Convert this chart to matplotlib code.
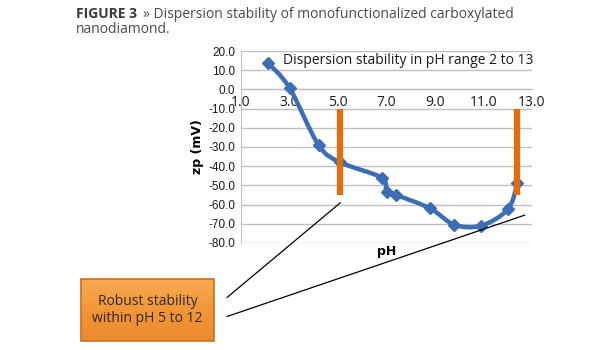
import matplotlib
matplotlib.use('Agg')
import matplotlib.pyplot as plt
import numpy as np
from matplotlib.path import Path
from matplotlib.patches import PathPatch, Rectangle, ConnectionPatch
from matplotlib.colors import LinearSegmentedColormap

# data
ph = [2.1, 3.0, 4.2, 5.1, 6.8, 7.0, 7.4, 8.8, 9.8, 10.9, 12.0, 12.4]
zp = [14.0, 0.8, -29.0, -38.0, -46.0, -53.5, -55.0, -62.0, -70.5, -71.0, -62.5, -49.0]
bar_ph = [5.1, 12.4]
bar_top = [-10.0, -10.0]
bar_bottom = [-55.0, -55.0]
y_ticks = [20, 10, 0, -10, -20, -30, -40, -50, -60, -70, -80]
x_ticks = [1, 3, 5, 7, 9, 11, 13]

blue = "#3B6EB5"
orange = "#E46C0A"
grid_gray = "#BFBFBF"

plt.rcParams['font.family'] = ['Open Sans', 'DejaVu Sans']

fig = plt.figure(figsize=(6.15, 3.5), dpi=100)
ax = fig.add_axes([241 / 615, 1 - 243 / 350, 291 / 615, 192 / 350])

# caption
fig.text(76 / 615, 1 - 18 / 350, "FIGURE 3", fontsize=10, fontweight="bold",
         color="#3A3A3A", va="baseline")
fig.text(143 / 615, 1 - 18 / 350, "\u00bb Dispersion stability of monofunctionalized carboxylated",
         fontsize=10, color="#4A4A4A", va="baseline")
fig.text(76 / 615, 1 - 33 / 350, "nanodiamond.", fontsize=10, color="#4A4A4A", va="baseline")

# axes styling
ax.set_xlim(1, 13)
ax.set_ylim(-80, 20)
ax.set_yticks(y_ticks)
ax.set_yticklabels([f"{v:.1f}" for v in y_ticks], fontfamily="Liberation Sans", fontsize=8.5)
ax.set_xticks(x_ticks)
ax.set_xticklabels([f"{v:.1f}" for v in x_ticks], fontfamily="Liberation Sans", fontsize=8.5)
ax.tick_params(axis="both", length=0, colors="#1A1A1A")
ax.tick_params(axis="x", pad=4)
ax.tick_params(axis="y", pad=4)
ax.grid(axis="y", color=grid_gray, linewidth=1.0)
ax.set_axisbelow(True)
for s in ["top", "right"]:
    ax.spines[s].set_visible(False)
ax.spines["left"].set_color(grid_gray)
ax.spines["bottom"].set_position(("data", 0))
ax.spines["bottom"].set_color(grid_gray)

ax.set_ylabel("zp (mV)", fontsize=9, fontweight="bold", fontfamily="DejaVu Sans", labelpad=3)
fig.text(387 / 615, 1 - 252 / 350, "pH", fontsize=9, fontweight="bold",
         fontfamily="DejaVu Sans", ha="center", va="center")

# smooth curve through the points (Catmull-Rom style bezier, like Excel)
pts = np.column_stack([ph, zp])
verts = [pts[0]]
codes = [Path.MOVETO]
n = len(pts)
for i in range(n - 1):
    p0 = pts[i - 1] if i > 0 else pts[i]
    p1 = pts[i]
    p2 = pts[i + 1]
    p3 = pts[i + 2] if i + 2 < n else pts[i + 1]
    c1 = p1 + (p2 - p0) / 6.0
    c2 = p2 - (p3 - p1) / 6.0
    verts += [c1, c2, p2]
    codes += [Path.CURVE4] * 3
ax.add_patch(PathPatch(Path(verts, codes), facecolor="none", edgecolor=blue,
                       linewidth=3.2, capstyle="round", joinstyle="round", zorder=3))
ax.plot(ph, zp, linestyle="none", marker="D", markersize=6.5, color=blue, zorder=4)

# orange range bars
ax.vlines(bar_ph, bar_bottom, bar_top, color=orange, linewidth=4.5, zorder=5)

ax.text(2.75, 15.3, "Dispersion stability in pH range 2 to 13", fontsize=10,
        color="#1A1A1A", va="center", ha="left", zorder=6)

# annotation box with a soft vertical gradient
gax = fig.add_axes([81 / 615, 1 - 341 / 350, 133 / 615, 62 / 350], zorder=2)
grad = np.linspace(0, 1, 64).reshape(-1, 1)
cmap = LinearSegmentedColormap.from_list("og", ["#F8AA52", "#F39638", "#EC8A2C"])
gax.imshow(grad, aspect="auto", cmap=cmap, extent=[0, 1, 0, 1], origin="upper")
gax.add_patch(Rectangle((0, 0), 1, 1, transform=gax.transAxes, facecolor="none",
                        edgecolor="#C8701F", linewidth=1.2, clip_on=False))
gax.set_xlim(0, 1)
gax.set_ylim(0, 1)
gax.axis("off")
gax.text(0.5, 0.5, "Robust stability\nwithin pH 5 to 12", fontsize=10,
         color="#2A2A2A", ha="center", va="center", linespacing=1.25, transform=gax.transAxes)

# connector lines from chart to box
for (xd, yd), (xp, yp) in [((5.1, -59.0), (227, 297.5)), ((12.7, -65.5), (227, 316.5))]:
    con = ConnectionPatch(xyA=(xd, yd), coordsA=ax.transData,
                          xyB=(xp / 615, 1 - yp / 350), coordsB=fig.transFigure,
                          color="black", linewidth=0.9)
    fig.add_artist(con)

fig.savefig("out.png", dpi=100)
